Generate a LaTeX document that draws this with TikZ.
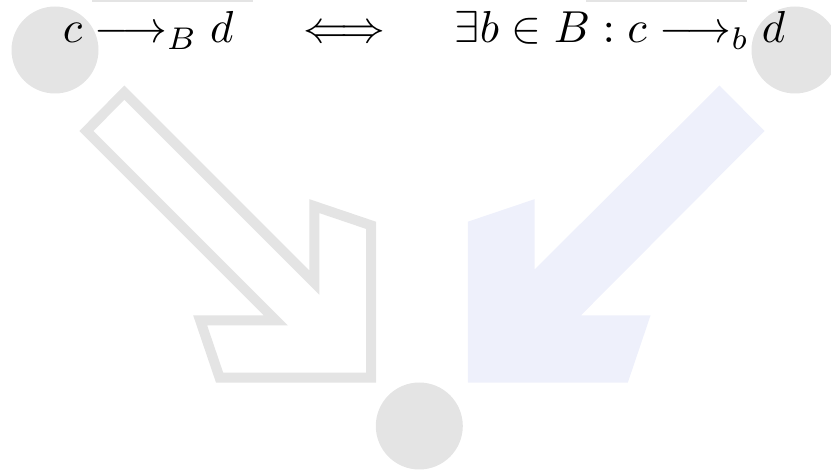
\documentclass[tikz,border=0pt]{standalone}
\usepackage{graphicx}
\usepackage{amsmath,amssymb}
\definecolor{blobgray}{RGB}{228,228,228}
\definecolor{arrowblue}{RGB}{238,240,251}
\tikzset{
  blob/.style={circle, fill=blobgray, draw=none, minimum size=87pt, inner sep=0pt},
  hollowarrow/.style={draw=blobgray, line width=10pt, miter limit=20, fill=white},
  solidarrow/.style={fill=arrowblue, draw=none},
  topbar/.style={fill=blobgray, draw=none}
}
\begin{document}
\begin{tikzpicture}[x=1pt,y=-1pt]
\useasboundingbox (0,0) rectangle (831,470);
\clip (0,0) rectangle (831,470);
% top bars
\fill[topbar] (92,-10) rectangle (253,2);
\fill[topbar] (586,-10) rectangle (747,2);
% circles
\node[blob] (lc) at (55,50) {};
\node[blob] (rc) at (795,50) {};
\node[blob] (bc) at (419.3,426) {};
% left hollow arrow
\draw[hollowarrow] (124.3,92.6) -- (86.4,131) -- (275.9,320.5) -- (200.2,320.5)
  -- (219.6,377.7) -- (371,377.7) -- (371,225.3) -- (314.3,206.1) -- (314.3,282.6) -- cycle;
% right solid arrow
\fill[solidarrow] (719.5,85.5) -- (764.5,131) -- (580.8,315.5) -- (650.5,315.5)
  -- (627.8,382.7) -- (467.8,382.7) -- (467.8,221.7) -- (534.5,199.2) -- (534.5,269.5) -- cycle;
% formula
\node[anchor=base, inner sep=0pt] (f) at (424,43)
  {\scalebox{4.48}{$c \longrightarrow_B d \quad\iff\quad \exists b\in B : c\longrightarrow_b d$}};
\end{tikzpicture}
\end{document}
